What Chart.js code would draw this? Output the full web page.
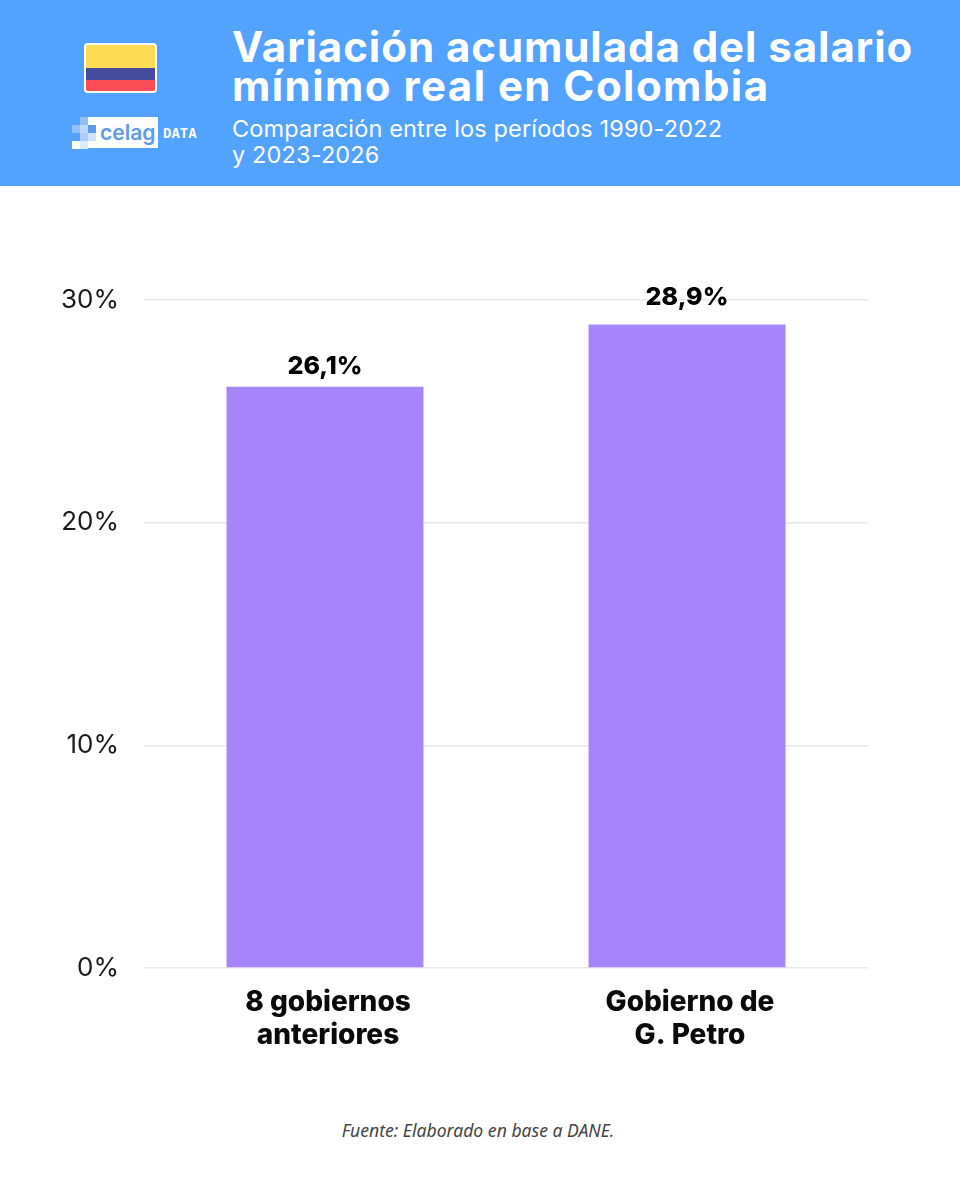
<!DOCTYPE html>
<html lang="es">
<head>
<meta charset="utf-8">
<title>Variación acumulada del salario mínimo real en Colombia</title>
<script src="https://cdn.jsdelivr.net/npm/chart.js@4"></script>
<style>
    html, body { margin: 0; padding: 0; background: #fff; }
    body { position: relative; width: 960px; height: 1200px; overflow: hidden; font-family: Inter, sans-serif; }
    .abs { position: absolute; }
    #header { left: 0; top: 0; width: 960px; height: 186px; background: #52a2ff; }
    #title { left: 232px; top: 27px; color: #fff; font-size: 42px; line-height: 39px; font-weight: 700; letter-spacing: 0.95px; white-space: nowrap; }
    #title span { letter-spacing: 1.45px; }
    #subtitle { left: 232px; top: 116px; color: #fff; font-size: 23.5px; line-height: 26px; font-weight: 400; letter-spacing: 0.15px; white-space: nowrap; }
    #flag { left: 84px; top: 43px; width: 69px; height: 46px; border: 2px solid #fff; border-radius: 4px; overflow: hidden; background: #ffdc55; }
    #flag div { position: absolute; left: 0; width: 69px; }
    #logoBox { left: 88px; top: 117px; width: 70px; height: 31px; background: #fff; color: #5b9be8; font-size: 21px; font-weight: 600; line-height: 31px; text-indent: 12px; }
    #logoData { left: 163px; top: 125px; color: #fff; font-family: "DejaVu Sans Mono", monospace; font-weight: 700; font-size: 14px; line-height: 17px; }
    .px { position: absolute; width: 8px; height: 8px; }
    #chartBox { left: 0; top: 201px; }
    #source { left: 0; top: 1118px; width: 956px; text-align: center; color: #444; font-family: "Noto Sans", sans-serif; font-style: italic; font-size: 17.6px; line-height: 24px; }
</style>
</head>
<body>
<div id="header" class="abs">
    <div id="flag" class="abs">
        <div style="top:23px;height:12px;background:#474b9c"></div>
        <div style="top:35px;height:11px;background:#fb4d56"></div>
    </div>
    <div id="logoBox" class="abs">celag</div>
    <div id="logoData" class="abs">DATA</div>
    <div class="px" style="left:72px;top:125px;background:#8fc0fb"></div>
    <div class="px" style="left:80px;top:117px;background:#8fc0fb"></div>
    <div class="px" style="left:80px;top:125px;background:#bcd9fd"></div>
    <div class="px" style="left:80px;top:133px;background:#a9cefc"></div>
    <div class="px" style="left:72px;top:141px;background:#fff"></div>
    <div class="px" style="left:80px;top:141px;background:#dcecfe"></div>
    <div class="px" style="left:88px;top:125px;background:#5b9be8"></div>
    <div class="px" style="left:88px;top:133px;background:#cfe3fd"></div>
    <div id="title" class="abs">Variación acumulada del salario<br><span>mínimo real en Colombia</span></div>
    <div id="subtitle" class="abs">Comparación entre los períodos 1990-2022<br>y 2023-2026</div>
</div>

<div id="chartBox" class="abs"><canvas id="canvas1" width="960" height="900"></canvas></div>
<div id="source" class="abs">Fuente: Elaborado en base a DANE.</div>

<script>
// Datos
const categories = [['8 gobiernos', 'anteriores'], ['Gobierno de', 'G. Petro']];
const values = [26.1, 28.9];
const valueLabels = ['26,1%', '28,9%'];
const yTicks = [0, 10, 20, 30];

// etiquetas encima de las barras (la segunda va un poco mas alta en el original)
const labelGaps = [13, 19];
const barLabels = {
    id: 'barLabels',
    afterDatasetsDraw(chart) {
        const ctx = chart.ctx;
        ctx.save();
        ctx.font = '800 25px Inter';
        ctx.fillStyle = '#000';
        ctx.textAlign = 'center';
        ctx.textBaseline = 'alphabetic';
        chart.getDatasetMeta(0).data.forEach((bar, i) => {
            ctx.fillText(valueLabels[i], bar.x, bar.y - labelGaps[i]);
        });
        ctx.restore();
    }
};

const chartCtx = document.getElementById('canvas1').getContext('2d');
new Chart(chartCtx, {
    type: 'bar',
    data: {
        labels: categories,
        datasets: [{
            data: values,
            backgroundColor: '#a685fb',
            borderWidth: 0,
            barPercentage: 0.544,
            categoryPercentage: 1
        }]
    },
    options: {
        responsive: false,
        animation: false,
        layout: { padding: { top: 99, right: 92, bottom: 0, left: 0 } },
        plugins: { legend: { display: false }, tooltip: { enabled: false } },
        scales: {
            x: {
                grid: { display: false },
                border: { display: false },
                afterFit: scale => { scale.height = 133; },
                ticks: {
                    color: '#0a0a0a',
                    padding: 10,
                    labelOffset: 3,
                    maxRotation: 0,
                    font: { family: 'Inter', size: 28, weight: '800', lineHeight: 1.18 }
                }
            },
            y: {
                min: 0,
                max: 30,
                afterBuildTicks: scale => { scale.ticks = yTicks.map(v => ({ value: v })); },
                afterFit: scale => { scale.width = 144; },
                grid: { color: '#e8e8e8', lineWidth: 1.5, drawTicks: false },
                border: { display: false },
                ticks: {
                    color: '#1a1a1a',
                    padding: 25,
                    font: { family: 'Inter', size: 26, weight: '400' },
                    callback: v => v + '%'
                }
            }
        }
    },
    plugins: [barLabels]
});
</script>
</body>
</html>
